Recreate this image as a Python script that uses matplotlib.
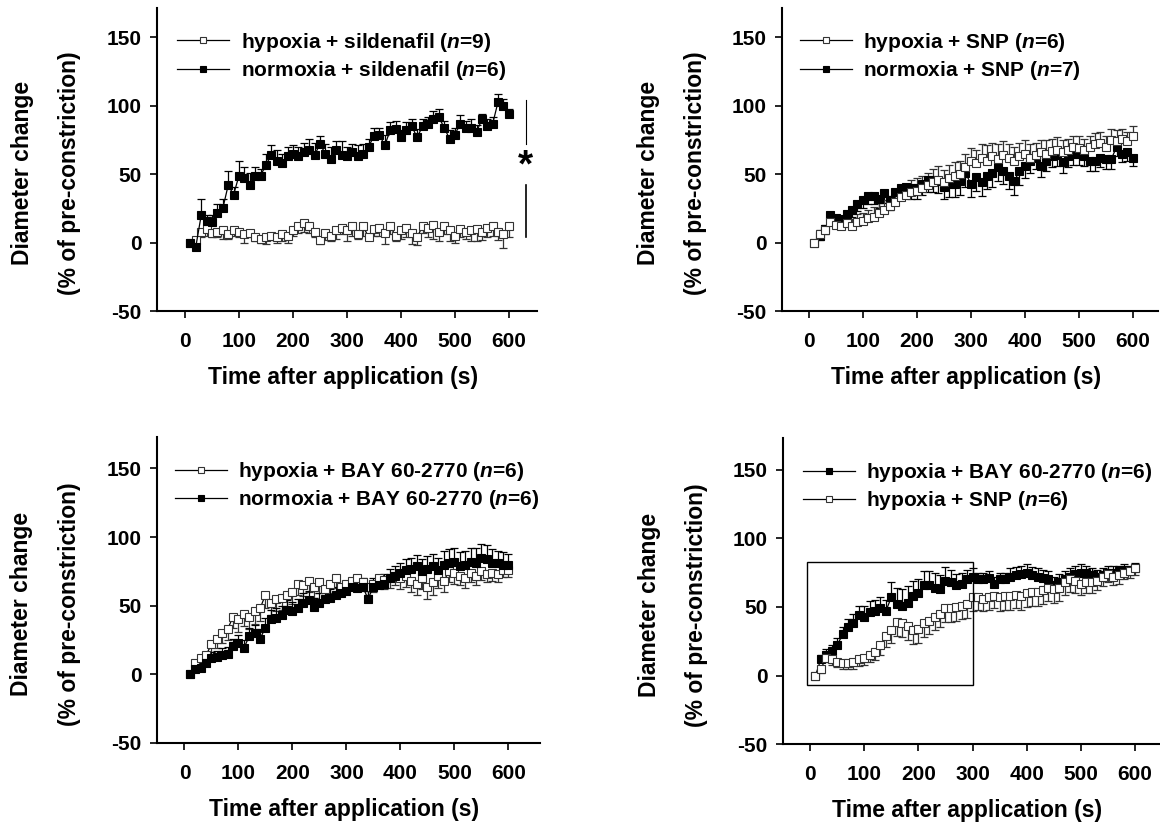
import numpy as np
import matplotlib
matplotlib.use('Agg')
import matplotlib.pyplot as plt
from matplotlib.patches import Rectangle

plt.rcParams['font.family'] = 'Liberation Sans'
plt.rcParams['font.weight'] = 'bold'
plt.rcParams['axes.unicode_minus'] = False
plt.rcParams['mathtext.fontset'] = 'custom'
plt.rcParams['mathtext.rm'] = 'Liberation Sans:bold'
plt.rcParams['mathtext.it'] = 'Liberation Sans:italic:bold'

# sampling times (s)
time_s = np.arange(10, 610, 10)

# panel A: sildenafil
hyp_sil = [0, 2, 8, 10, 7, 8, 9, 6, 9, 8, 6, 7, 4, 3, 4, 5, 4, 6, 5, 9,
           12, 14, 12, 8, 2, 7, 5, 9, 11, 9, 12, 6, 12, 4, 10, 11, 7, 12, 5, 9,
           11, 7, 4, 12, 11, 13, 8, 12, 9, 5, 10, 8, 9, 10, 8, 11, 12, 8, 6, 12]
hyp_sil_err = [0, 3, 4, 5, 3, 4, 6, 3, 4, 4, 6, 3, 3, 3, 5, 3, 4, 5, 5, 4,
               5, 6, 5, 4, 3, 5, 4, 6, 5, 8, 7, 3, 7, 2, 5, 6, 8, 6, 4, 6,
               7, 8, 6, 5, 7, 10, 7, 6, 8, 5, 6, 5, 8, 9, 6, 7, 7, 6, 10, 8]
nor_sil = [0, -3, 20, 16, 15, 22, 25, 42, 35, 49, 47, 42, 49, 49, 57, 64, 60, 58, 63, 65,
           63, 66, 68, 64, 72, 65, 61, 68, 64, 63, 66, 63, 65, 70, 78, 79, 71, 82, 83, 77,
           82, 85, 77, 85, 87, 90, 92, 84, 76, 79, 87, 84, 84, 81, 90, 85, 87, 103, 100, 94]
nor_sil_err = [0, 3, 12, 4, 5, 6, 7, 10, 6, 11, 8, 9, 6, 5, 8, 7, 8, 7, 7, 6,
               7, 7, 8, 9, 6, 7, 9, 6, 10, 7, 6, 8, 7, 6, 6, 5, 8, 6, 6, 5,
               6, 5, 6, 5, 5, 6, 6, 5, 6, 5, 6, 5, 6, 5, 4, 5, 5, 6, 5, 4]

# panel B: SNP
hyp_snp = [0, 6, 9, 15, 13, 12, 14, 12, 15, 16, 18, 19, 22, 24, 27, 30, 33, 35, 37, 38,
           40, 42, 44, 46, 44, 47, 49, 50, 55, 60, 58, 62, 60, 63, 61, 64, 62, 60, 63, 65,
           62, 64, 66, 65, 67, 68, 66, 68, 70, 69, 68, 70, 72, 73, 70, 75, 74, 76, 74, 78]
hyp_snp_err = [0, 3, 4, 5, 5, 4, 5, 5, 6, 6, 6, 7, 7, 7, 7, 8, 8, 8, 9, 9,
               9, 9, 10, 10, 9, 10, 10, 10, 10, 9, 10, 10, 11, 10, 11, 10, 10, 10, 10, 10,
               10, 9, 9, 10, 9, 9, 9, 8, 8, 9, 8, 8, 8, 8, 8, 8, 8, 7, 7, 7]
nor_snp = [0, 5, 10, 20, 18, 17, 21, 24, 28, 31, 34, 34, 32, 36, 31, 37, 40, 41, 40, 40,
           43, 46, 46, 45, 41, 43, 43, 45, 51, 43, 48, 44, 49, 51, 55, 52, 49, 45, 52, 56,
           60, 62, 56, 60, 63, 64, 59, 63, 65, 65, 63, 60, 60, 62, 61, 61, 70, 65, 66, 62]
nor_snp_err = [0, 3, 4, 3, 4, 4, 5, 5, 5, 6, 6, 6, 7, 7, 7, 7, 7, 8, 8, 8,
               8, 9, 9, 9, 9, 10, 10, 10, 10, 10, 10, 10, 10, 10, 10, 9, 10, 10, 10, 9,
               9, 8, 8, 8, 8, 8, 8, 8, 8, 8, 7, 8, 8, 7, 7, 7, 7, 6, 6, 6]

# panel C: BAY 60-2770
hyp_bay = [0, 8, 12, 14, 22, 26, 30, 33, 42, 40, 44, 42, 46, 48, 58, 52, 55, 56, 58, 60,
           66, 65, 68, 64, 67, 62, 66, 70, 64, 66, 68, 70, 67, 64, 66, 70, 69, 70, 72, 70,
           72, 68, 66, 70, 64, 67, 72, 68, 75, 74, 72, 70, 74, 72, 75, 73, 74, 73, 76, 76]
hyp_bay_err = [0, 3, 4, 5, 6, 7, 7, 8, 8, 9, 9, 9, 9, 9, 10, 9, 9, 9, 9, 9,
               8, 8, 8, 8, 8, 7, 7, 7, 6, 6, 6, 6, 6, 6, 6, 6, 7, 7, 7, 8,
               8, 8, 8, 8, 9, 9, 9, 8, 8, 8, 7, 7, 7, 7, 6, 6, 6, 6, 5, 5]
nor_bay = [0, 4, 5, 8, 12, 13, 14, 15, 21, 23, 19, 28, 30, 26, 34, 40, 41, 43, 47, 46,
           48, 52, 54, 49, 52, 55, 56, 58, 59, 61, 64, 63, 64, 55, 64, 65, 66, 70, 72, 74,
           76, 77, 79, 75, 77, 79, 76, 80, 81, 82, 79, 80, 82, 81, 85, 84, 81, 81, 80, 80]
nor_bay_err = [0, 2, 3, 3, 4, 4, 5, 5, 5, 6, 6, 6, 6, 7, 7, 7, 7, 7, 7, 7,
               7, 7, 7, 7, 7, 7, 6, 6, 6, 6, 6, 6, 6, 6, 6, 6, 7, 7, 7, 7,
               8, 8, 8, 9, 9, 9, 9, 10, 10, 10, 10, 10, 10, 11, 10, 10, 10, 9, 9, 8]

# panel D: hypoxia BAY vs hypoxia SNP
hyp_bay2 = [0, 12, 15, 18, 22, 30, 35, 38, 44, 43, 46, 47, 49, 47, 57, 52, 51, 53, 58, 60,
            66, 66, 64, 63, 69, 68, 66, 67, 70, 72, 70, 70, 71, 67, 70, 70, 72, 73, 74, 75,
            73, 72, 71, 70, 66, 68, 70, 72, 74, 75, 75, 73, 72, 73, 75, 75, 76, 77, 76, 78]
hyp_bay2_err = [0, 3, 4, 4, 5, 5, 6, 7, 7, 8, 8, 8, 8, 8, 11, 12, 12, 12, 11, 10,
                10, 10, 11, 10, 10, 9, 8, 8, 7, 6, 5, 5, 5, 5, 5, 5, 6, 6, 6, 6,
                6, 6, 6, 6, 6, 6, 6, 6, 6, 6, 5, 5, 5, 5, 5, 5, 4, 4, 4, 4]
hyp_snp2 = [0, 5, 13, 12, 10, 9, 9, 10, 12, 13, 15, 17, 22, 29, 33, 39, 38, 36, 33, 34,
            38, 40, 43, 45, 49, 49, 50, 51, 52, 57, 57, 56, 57, 58, 57, 58, 58, 59, 58, 60,
            61, 61, 62, 64, 63, 64, 68, 70, 69, 67, 68, 68, 69, 72, 74, 72, 73, 75, 76, 78]
hyp_snp2_err = [0, 3, 3, 4, 4, 4, 4, 5, 5, 5, 5, 6, 7, 8, 9, 10, 10, 10, 10, 10,
                10, 10, 10, 10, 10, 10, 10, 10, 10, 10, 9, 9, 9, 9, 10, 10, 10, 10, 10, 10,
                10, 10, 10, 10, 10, 10, 9, 9, 9, 8, 8, 8, 7, 7, 6, 6, 6, 5, 5, 5]

x_ticks = [0, 100, 200, 300, 400, 500, 600]
y_ticks = [-50, 0, 50, 100, 150]


def draw_series(ax, y, err, filled, up, label):
    y = np.array(y, dtype=float)
    err = np.array(err, dtype=float)
    zero = np.zeros_like(err)
    yerr = [zero, err] if up else [err, zero]
    col = 'black' if filled else '#333333'
    ax.errorbar(time_s, y, yerr=yerr, fmt='none', ecolor=col, elinewidth=0.9,
                capsize=3, capthick=0.9, zorder=2)
    ax.plot(time_s, y, color='black', lw=0.9, marker='s', markersize=5.5,
            markerfacecolor='black' if filled else 'white',
            markeredgecolor=col, markeredgewidth=0.8, label=label, zorder=3)


def style_axes(ax, xlim, ylim):
    ax.set_xlim(*xlim)
    ax.set_ylim(*ylim)
    ax.set_xticks(x_ticks)
    ax.set_yticks(y_ticks)
    for s in ['top', 'right']:
        ax.spines[s].set_visible(False)
    for s in ['left', 'bottom']:
        ax.spines[s].set_linewidth(1.5)
    ax.tick_params(axis='both', direction='out', length=5, width=1.2, labelsize=15)
    ax.tick_params(axis='x', pad=10)
    ax.tick_params(axis='y', pad=6)
    ax.set_xlabel('Time after application (s)', fontsize=16.5, fontweight='bold')
    ax.xaxis.set_label_coords(0.49, -0.18)
    ax.text(-0.355, 0.455, 'Diameter change', transform=ax.transAxes, rotation=90,
            ha='center', va='center', fontsize=16.5, fontweight='bold')
    ax.text(-0.229, 0.455, '(% of pre-constriction)', transform=ax.transAxes, rotation=90,
            ha='center', va='center', fontsize=16.5, fontweight='bold')


def add_legend(ax, x, y, order=None):
    h, l = ax.get_legend_handles_labels()
    if order is not None:
        h = [h[i] for i in order]
        l = [l[i] for i in order]
    ax.legend(h, l, loc='upper left', bbox_to_anchor=(x, y), frameon=False, fontsize=15,
              handlelength=2.5, handletextpad=0.55, labelspacing=0.25, borderpad=0,
              borderaxespad=0, numpoints=1, markerscale=0.7)


fig = plt.figure(figsize=(11.6, 8.25), dpi=100)

ax1 = fig.add_axes([0.1353, 0.623, 0.3276, 0.3673])
draw_series(ax1, hyp_sil, hyp_sil_err, False, False, r'hypoxia + sildenafil ($\it{n}$=9)')
draw_series(ax1, nor_sil, nor_sil_err, True, True, r'normoxia + sildenafil ($\it{n}$=6)')
style_axes(ax1, (-52, 652), (-50, 171.5))
add_legend(ax1, 0.053, 0.925)
ax1.plot([631, 631], [72, 104], color='black', lw=0.8)
ax1.plot([631, 631], [4, 42], color='black', lw=1.2)
ax1.text(631, 56, '*', ha='center', va='center', fontsize=28, fontweight='bold')

ax2 = fig.add_axes([0.674, 0.623, 0.324, 0.3673])
draw_series(ax2, nor_snp, nor_snp_err, True, False, r'normoxia + SNP ($\it{n}$=7)')
draw_series(ax2, hyp_snp, hyp_snp_err, False, True, r'hypoxia + SNP ($\it{n}$=6)')
style_axes(ax2, (-50, 646), (-50, 171.5))
add_legend(ax2, 0.048, 0.925, order=[1, 0])

ax3 = fig.add_axes([0.1353, 0.0994, 0.330, 0.371])
draw_series(ax3, hyp_bay, hyp_bay_err, False, False, r'hypoxia + BAY 60-2770 ($\it{n}$=6)')
draw_series(ax3, nor_bay, nor_bay_err, True, True, r'normoxia + BAY 60-2770 ($\it{n}$=6)')
style_axes(ax3, (-51, 658), (-50, 173))
add_legend(ax3, 0.047, 0.925)

ax4 = fig.add_axes([0.675, 0.098, 0.324, 0.371])
draw_series(ax4, hyp_bay2, hyp_bay2_err, True, True, r'hypoxia + BAY 60-2770 ($\it{n}$=6)')
draw_series(ax4, hyp_snp2, hyp_snp2_err, False, False, r'hypoxia + SNP ($\it{n}$=6)')
style_axes(ax4, (-50, 644), (-50, 173))
add_legend(ax4, 0.053, 0.925)
ax4.add_patch(Rectangle((-5, -7), 305, 90, fill=False, edgecolor='black', lw=1.0, zorder=4))

fig.savefig('out.png', dpi=100)
